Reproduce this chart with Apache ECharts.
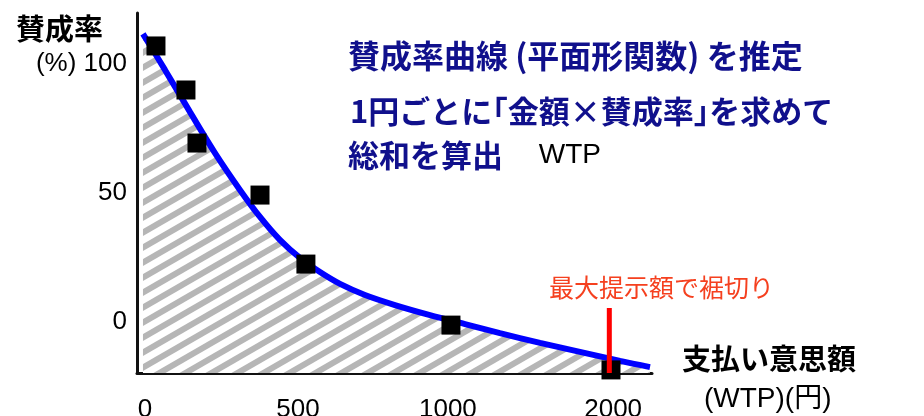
<!DOCTYPE html>
<html>
<head>
<meta charset="utf-8">
<script src="https://cdn.jsdelivr.net/npm/echarts@6/dist/echarts.min.js"></script>
<style>
html,body{margin:0;padding:0;background:#fff;}
#main{width:924px;height:416px;}
</style>
</head>
<body>
<div id="main"></div>
<script>
// 横軸の目盛り（位置は図から読んだもの）
var xTickPos = [0, 1, 1.98, 3.06];
var xTickLabels = ['0', '500', '1000', '2000'];
var yTickVals = [0, 50, 100];
var yTickLabels = ['0', '50', '(%) 100'];

// 観測された賛成率（■）
var bidPos = [0.072, 0.268, 0.340, 0.752, 1.052, 2.0, 3.046];
var agreeRate = [107.0, 89.9, 69.3, 49.1, 22.3, -1.4, -18.8];

// 推定曲線（青線）
var curveX = [-0.013, 0.131, 0.294, 0.458, 0.621, 0.752, 0.882, 1.013, 1.144, 1.275, 1.438, 1.634, 1.863, 2.092, 2.320, 2.582, 2.843, 3.105, 3.301];
var curveY = [111.7, 97.7, 81.4, 65.4, 51.1, 40.6, 31.7, 24.7, 19.2, 14.6, 10.3, 6.4, 2.5, -1.0, -4.5, -8.3, -11.8, -15.3, -17.7];

// 最大提示額の裾切り
var cutX = 3.035;
var cutTop = 5.2;

var yMin = -20.0, yMax = 119.8;
var xMin = -0.052, xMax = 3.314;

function zip(a, b) {
    var out = [];
    for (var i = 0; i < a.length; i++) out.push([a[i], b[i]]);
    return out;
}

// 斜線パターン
function makeHatch() {
    var c = document.createElement('canvas');
    var w = 26, h = 15;
    c.width = w; c.height = h;
    var ctx = c.getContext('2d');
    ctx.fillStyle = '#fff';
    ctx.fillRect(0, 0, w, h);
    ctx.strokeStyle = '#b6b6b6';
    ctx.lineWidth = 6;
    for (var k = -1; k <= 1; k++) {
        ctx.beginPath();
        ctx.moveTo(-w, 2 * h + k * h);
        ctx.lineTo(2 * w, -h + k * h);
        ctx.stroke();
    }
    return c;
}

var myChart = echarts.init(document.getElementById('main'));
var latin = 'Liberation Sans, Noto Sans CJK JP';
var cjk = 'Noto Sans CJK JP';

var option = {
    animation: false,
    grid: {left: 137, right: 272, top: 13, bottom: 43, outerBoundsMode: 'none', containLabel: false},
    xAxis: {
        type: 'value', min: xMin, max: xMax,
        splitLine: {show: false},
        axisTick: {show: false},
        axisLine: {onZero: false, lineStyle: {color: '#111', width: 3}},
        axisLabel: {
            customValues: xTickPos,
            margin: 24,
            fontSize: 26,
            color: '#000',
            fontFamily: latin,
            formatter: function (v) {
                var i = xTickPos.indexOf(v);
                return i >= 0 ? xTickLabels[i] : '';
            }
        }
    },
    yAxis: {
        type: 'value', min: yMin, max: yMax,
        splitLine: {show: false},
        axisTick: {show: false},
        axisLine: {show: true, onZero: false, lineStyle: {color: '#111', width: 3}},
        axisLabel: {
            customValues: yTickVals,
            margin: 10,
            fontSize: 26,
            color: '#000',
            fontFamily: latin,
            formatter: function (v) {
                var i = yTickVals.indexOf(v);
                return i >= 0 ? yTickLabels[i] : '';
            }
        }
    },
    series: [{
        type: 'line',
        data: zip(curveX, curveY),
        smooth: 0.35,
        symbol: 'none',
        lineStyle: {color: '#0000ff', width: 6},
        areaStyle: {origin: 'start', color: {image: makeHatch(), repeat: 'repeat'}, opacity: 1},
        z: 2
    }, {
        type: 'scatter',
        data: zip(bidPos, agreeRate),
        symbol: 'rect',
        symbolSize: 19,
        clip: false,
        itemStyle: {color: '#000', opacity: 1},
        z: 3
    }, {
        type: 'line',
        data: [[cutX, cutTop], [cutX, yMin]],
        symbol: 'none',
        lineStyle: {color: '#ff0000', width: 5},
        z: 4
    }],
    graphic: [
        {type: 'text', left: 16, top: 14, style: {text: '賛成率', font: 'bold 29px ' + cjk, fill: '#000'}},
        {type: 'text', left: 348, top: 40, style: {text: '賛成率曲線 (平面形関数) を推定', font: 'bold 32px ' + cjk, fill: '#10108c'}},
        {type: 'text', left: 350, top: 96, style: {text: '1円ごとに｢金額×賛成率｣を求めて', font: 'bold 31px ' + cjk, fill: '#10108c'}},
        {type: 'text', left: 348, top: 140, style: {
            text: '{b|総和を算出}{n|　 WTP}',
            rich: {
                b: {font: 'bold 31px ' + cjk, fill: '#10108c'},
                n: {fontSize: 28, fontFamily: latin, color: '#10108c'}
            }
        }},
        {type: 'text', left: 549, top: 275, style: {text: '最大提示額で裾切り', font: '25px ' + cjk, fill: '#f5401f'}},
        {type: 'text', left: 682, top: 344, style: {text: '支払い意思額', font: 'bold 29px ' + cjk, fill: '#000'}},
        {type: 'text', left: 704, top: 385, style: {text: '(WTP)(円)', font: '28px ' + latin, fill: '#000'}}
    ]
};
myChart.setOption(option);
</script>
</body>
</html>
